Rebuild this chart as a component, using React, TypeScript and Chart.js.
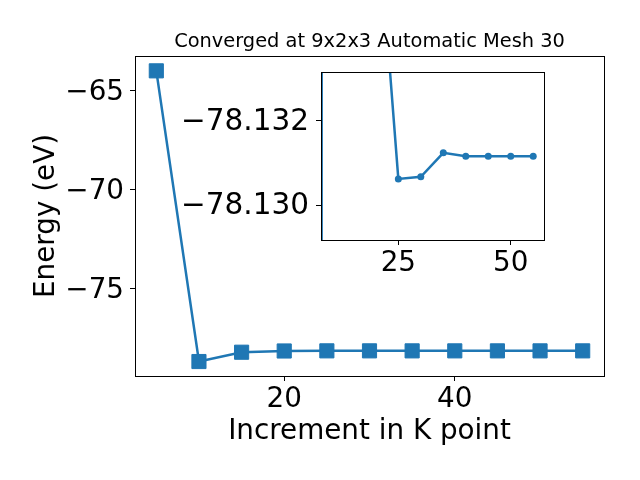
import React, { useEffect, useRef } from 'react';
import { Chart, registerables } from 'chart.js';

Chart.register(...registerables);

const kPoints = [5, 10, 15, 20, 25, 30, 35, 40, 45, 50, 55];
const energies = [-64.0, -78.67, -78.2, -78.1375, -78.13062, -78.13067, -78.13124, -78.13116, -78.13116, -78.13116, -78.13116];
const titleText = 'Converged at 9x2x3 Automatic Mesh 30';
const xLabel = 'Increment in K point';
const yLabel = 'Energy (eV)';
const mainXTicks = [20, 40];
const mainYTicks = [-75, -70, -65];
const insetXTicks = [25, 50];
const insetYTicks = [-78.132, -78.13];

const FONT = 'DejaVu Sans';
const BLUE = '#1f77b4';
const TICK_SIZE = 27.8;

const boxPlugin = {
  id: 'boxPlugin',
  beforeDraw(chart: any) {
    const a = chart.chartArea;
    const ctx = chart.ctx;
    ctx.save();
    ctx.fillStyle = '#ffffff';
    ctx.fillRect(a.left, a.top, a.right - a.left, a.bottom - a.top);
    ctx.restore();
  },
  afterDraw(chart: any) {
    const a = chart.chartArea;
    const ctx = chart.ctx;
    ctx.save();
    ctx.strokeStyle = '#000000';
    ctx.lineWidth = 1;
    ctx.strokeRect(Math.round(a.left) + 0.5, Math.round(a.top) + 0.5, Math.round(a.right - a.left), Math.round(a.bottom - a.top));
    ctx.restore();
  },
};

const minus = (s: string) => s.replace('-', '\u2212');
const setTicks = (vals: number[]) => (s: any) => {
  s.ticks = vals.map((v) => ({ value: v }));
};

const points = kPoints.map((x, i) => ({ x, y: energies[i] }));

export default function App() {
  const mainRef = useRef<HTMLCanvasElement>(null);
  const insetRef = useRef<HTMLCanvasElement>(null);

  useEffect(() => {
    const tickGrid = { display: true, drawOnChartArea: false, drawTicks: true, tickLength: 5, color: '#000', lineWidth: 1 };
    const tickFont = { family: FONT, size: TICK_SIZE };
    const main = new Chart(mainRef.current as HTMLCanvasElement, {
      type: 'line',
      data: {
        datasets: [
          {
            data: points,
            borderColor: BLUE,
            backgroundColor: BLUE,
            borderWidth: 2.5,
            pointStyle: 'rect',
            pointRadius: 10,
            pointBorderWidth: 1,
            pointBackgroundColor: BLUE,
            pointBorderColor: BLUE,
          },
        ],
      },
      options: {
        animation: false,
        responsive: false,
        events: [],
        layout: { padding: { left: 0, right: 36, top: 0, bottom: 0 } },
        plugins: {
          legend: { display: false },
          tooltip: { enabled: false },
          title: {
            display: true,
            text: titleText,
            color: '#000',
            font: { family: FONT, size: 19.4, weight: 'normal' },
            padding: { top: 30, bottom: 2.7 },
            fullSize: false,
          },
        },
        scales: {
          x: {
            type: 'linear',
            min: 2.5,
            max: 57.5,
            afterFit(s: any) { s.height = 104; },
            afterBuildTicks: setTicks(mainXTicks),
            ticks: { color: '#000', font: tickFont, padding: 2, maxRotation: 0 },
            grid: tickGrid,
            border: { display: false },
            title: { display: true, text: xLabel, color: '#000', font: tickFont, padding: { top: 0, bottom: 32 } },
          },
          y: {
            type: 'linear',
            min: -79.4,
            max: -63.25,
            afterFit(s: any) { s.width = 135; },
            afterBuildTicks: setTicks(mainYTicks),
            ticks: { color: '#000', font: tickFont, padding: 6, labelOffset: 2, callback: (v: any) => minus(String(v)) },
            grid: tickGrid,
            border: { display: false },
            title: { display: true, text: yLabel, color: '#000', font: tickFont, padding: { top: 30, bottom: 0 } },
          },
        },
      },
      plugins: [boxPlugin],
    } as any);

    const inset = new Chart(insetRef.current as HTMLCanvasElement, {
      type: 'line',
      data: {
        datasets: [
          {
            data: points,
            borderColor: BLUE,
            backgroundColor: BLUE,
            borderWidth: 2.5,
            pointStyle: 'circle',
            pointRadius: 3.5,
            pointBorderWidth: 0,
            pointBackgroundColor: BLUE,
          },
        ],
      },
      options: {
        animation: false,
        responsive: false,
        events: [],
        layout: { padding: { left: 0, right: 96, top: 72, bottom: 0 } },
        plugins: { legend: { display: false }, tooltip: { enabled: false }, title: { display: false } },
        scales: {
          x: {
            type: 'linear',
            min: 7.8,
            max: 57.4,
            afterFit(s: any) { s.height = 240; },
            afterBuildTicks: setTicks(insetXTicks),
            ticks: { color: '#000', font: tickFont, padding: 2, maxRotation: 0 },
            grid: tickGrid,
            border: { display: false },
          },
          y: {
            type: 'linear',
            reverse: true,
            min: -78.13316,
            max: -78.12917,
            afterFit(s: any) { s.width = 321; },
            afterBuildTicks: setTicks(insetYTicks),
            ticks: { color: '#000', font: { family: FONT, size: 29.5 }, padding: 7, labelOffset: 1.5, callback: (v: any) => minus(Number(v).toFixed(3)) },
            grid: tickGrid,
            border: { display: false },
          },
        },
      },
      plugins: [boxPlugin],
    } as any);

    return () => {
      main.destroy();
      inset.destroy();
    };
  }, []);

  return (
    <div style={{ position: 'absolute', left: 0, top: 0, width: 640, height: 480, background: '#fff' }}>
      <canvas ref={mainRef} width={640} height={480} style={{ position: 'absolute', left: 0, top: 0, width: 640, height: 480 }} />
      <canvas ref={insetRef} width={640} height={480} style={{ position: 'absolute', left: 0, top: 0, width: 640, height: 480, pointerEvents: 'none' }} />
    </div>
  );
}
